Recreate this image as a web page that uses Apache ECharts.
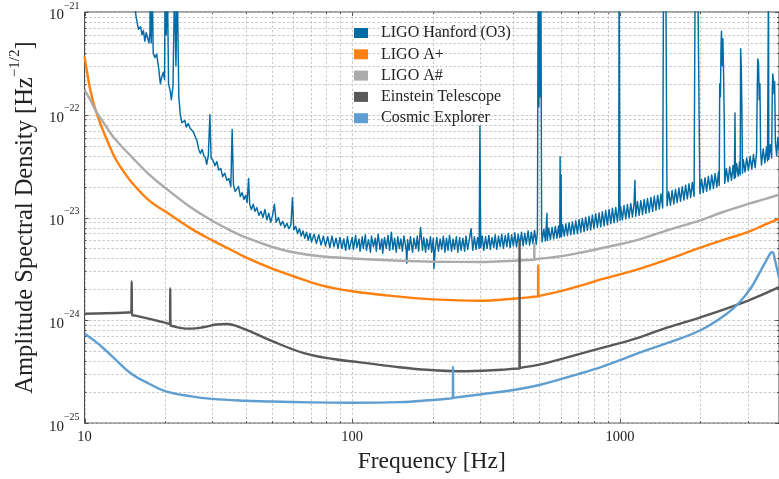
<!DOCTYPE html>
<html><head><meta charset="utf-8">
<script src="https://cdn.jsdelivr.net/npm/echarts@6/dist/echarts.min.js"></script>
<style>html,body{margin:0;padding:0;background:#fff}#c{width:779px;height:479px}</style>
</head><body><div id="c"></div><script>
const seriesNames = ['LIGO Hanford (O3)', 'LIGO A+', 'LIGO A#', 'Einstein Telescope', 'Cosmic Explorer'];
const seriesColors = ['#006BA4', '#FF800E', '#ABABAB', '#595959', '#5F9ED1'];
const xTickLabels = ['10', '100', '1000'];
const yTickExponents = ['−25', '−24', '−23', '−22', '−21'];

const hanford = [
[15.3,1.3e-21],[15.6,8.8e-22],[15.9,6.8e-22],[16.2,7.2e-22],[16.4,6.0e-22],[16.6,6.6e-22],[16.8,5.2e-22],[17.0,6.3e-22],[17.2,5.6e-22],[17.4,5.0e-22],[17.55,6.2e-22],[17.6,2e-21],[17.75,5.0e-22],[17.9,2e-21],[18.05,4.0e-22],[18.3,3.6e-22],[18.6,3.9e-22],[18.9,2.9e-22],[19.2,2.0e-22],[19.4,2.3e-22],[19.7,2.6e-22],[19.9,2.2e-22],[20.0,2e-21],[20.2,6e-22],[20.4,2e-21],[20.6,2.0e-22],[20.9,1.7e-22],[21.1,1.4e-22],[21.4,1.9e-22],[21.7,2e-21],[21.95,3e-22],[22.2,2e-21],[22.5,1.5e-22],[22.8,1.0e-22],[23.1,8.4e-23],
[23.4,8.1e-23],[23.7,8.8e-23],[24.0,7.6e-23],[24.4,8.2e-23],[24.8,7.4e-23],[25.2,7.6e-23],[25.5,6.8e-23],[26.0,6.0e-23],[26.3,5.6e-23],[26.7,4.6e-23],[27.1,4.2e-23],[27.5,4.6e-23],[27.9,4.0e-23],[28.3,3.8e-23],[28.6,3.3e-23],[29.0,4.0e-23],[29.4,1.0e-22],[29.7,3.8e-23],[30.2,3.6e-23],[30.7,3.2e-23],[31.2,3.5e-23],[31.7,2.9e-23],[32.3,3.0e-23],[32.8,2.5e-23],[33.4,2.7e-23],[34.0,2.3e-23],[34.6,2.4e-23],[35.2,2.0e-23],[35.6,7.2e-23],[36.0,2.1e-23],[36.5,1.8e-23],[37.0,1.75e-23],[37.6,2.0e-23],[38.2,1.6e-23],[38.8,1.75e-23],[39.4,1.5e-23],[40.0,1.65e-23],[40.5,1.4e-23],[41.0,2.4e-23],[41.4,1.35e-23],[42.0,1.2e-23],[42.7,1.35e-23],[43.3,1.15e-23],[44.0,1.25e-23],[44.8,1.05e-23],[45.6,1.15e-23],[46.4,1.0e-23],[47.2,1.2e-23],[48.0,9.5e-24],[48.8,1.1e-23],[49.6,9.0e-24],[50.4,1.05e-23],[51.2,1.35e-23],[52.0,9.0e-24],[53.0,1.0e-23],[54.0,8.4e-24],[55.0,9.2e-24],[56.0,8.0e-24],[57.0,8.8e-24],[58.0,7.8e-24],[59.0,8.4e-24],[59.8,1.56e-23],[60.5,7.6e-24],[61.5,8.2e-24],[62.5,7.0e-24],[63.5,7.8e-24],[64.5,6.6e-24],[65.5,7.4e-24],[66.5,6.3e-24],[67.5,7.2e-24],[68.5,6.0e-24],[69.5,7.0e-24],[70.5,5.8e-24],[72,6.9e-24],[73.5,5.6e-24],[75,6.8e-24],[76.5,5.4e-24],[78,6.6e-24],[79.5,5.3e-24],[81,6.5e-24],[82.5,5.1e-24],[84,6.6e-24],[85.5,5.2e-24],[87,6.3e-24],[88.5,5.0e-24],[90,6.4e-24],[91.5,5.0e-24],[93,6.2e-24],[94.5,4.8e-24],[96,6.5e-24],[97.5,4.9e-24],
[100,6.4e-24],[101,4.9e-24],[103,6.7e-24],[104,5.1e-24],[106,6.2e-24],[107,4.7e-24],[109,6.5e-24],[110,5.0e-24],[112,6.8e-24],[113,4.8e-24],[115,6.1e-24],[117,4.6e-24],[118,6.6e-24],[120,5.2e-24],[122,6.3e-24],[123,4.7e-24],[125,6.9e-24],[127,4.9e-24],[129,6.2e-24],[130,4.5e-24],[132,6.4e-24],[134,5.0e-24],[136,6.7e-24],[138,4.8e-24],[140,7.2e-24],[142,4.9e-24],[144,6.3e-24],[146,4.6e-24],[148,6.5e-24],[150,5.0e-24],[152,6.2e-24],[154,4.7e-24],[156,6.6e-24],[159,4.9e-24],[160,3.6e-24],[161,6.1e-24],[163,4.8e-24],[165,6.5e-24],[168,4.6e-24],[170,6.3e-24],[173,5.0e-24],[175,6.6e-24],[177,4.7e-24],[180,8.0e-24],[183,4.8e-24],[185,6.4e-24],[188,4.6e-24],[190,6.2e-24],[193,4.9e-24],[196,6.5e-24],[198,4.6e-24],[201,6.3e-24],[202,3.2e-24],[204,4.8e-24],[207,6.4e-24],[210,4.7e-24],[213,6.2e-24],[216,4.9e-24],[219,6.6e-24],[222,4.6e-24],[225,6.3e-24],[228,4.8e-24],[231,6.7e-24],[235,4.7e-24],[238,6.2e-24],[241,4.9e-24],[245,6.5e-24],[248,4.6e-24],[252,6.4e-24],[255,4.8e-24],[259,6.3e-24],[263,4.7e-24],[266,6.6e-24],[270,4.9e-24],[274,6.2e-24],[278,7.8e-24],[282,4.8e-24],[286,6.5e-24],[290,4.9e-24],[294,6.4e-24],[298,5.0e-24],[300,7.8e-23],[302,5.1e-24],[306,6.6e-24],[310,4.8e-24],[315,6.5e-24],[319,5.0e-24],[324,6.7e-24],[328,4.9e-24],[333,6.4e-24],[338,5.1e-24],[342,6.8e-24],[347,4.9e-24],[352,6.6e-24],[357,5.2e-24],[362,6.9e-24],[367,5.0e-24],[373,6.7e-24],[378,5.2e-24],[383,7.0e-24],[389,5.1e-24],[394,6.8e-24],[400,5.3e-24],[405,7.1e-24],[411,5.2e-24],[417,6.9e-24],[423,5.4e-24],[429,7.2e-24],[435,5.3e-24],[441,7.0e-24],[447,5.5e-24],[454,7.4e-24],[460,5.4e-24],[467,7.2e-24],[473,5.6e-24],[480,7.5e-24],[487,5.5e-24],[492,7.3e-24],
[495,2e-21],[498,1.2e-22],[501,2e-21],[504,1.5e-22],[507,2e-21],[510,7.5e-24],[512,5.8e-24],[520,7.7e-24],[527,5.9e-24],[534,1.1e-23],[536,6.0e-24],[542,7.9e-24],[550,6.1e-24],[558,8.0e-24],[566,6.2e-24],[574,8.2e-24],[582,6.3e-24],[590,8.3e-24],[596,6.4e-24],[598,3.9e-23],[600,6.6e-24],[603,2.6e-23],[605,6.5e-24],[611,8.5e-24],[620,6.6e-24],[628,8.7e-24],[637,6.7e-24],[646,8.9e-24],[655,6.8e-24],[665,9.1e-24],[674,6.9e-24],[684,9.3e-24],[694,7.0e-24],[704,9.6e-24],[714,7.2e-24],[724,9.8e-24],[735,7.3e-24],[745,1.01e-23],[756,7.5e-24],[767,1.03e-23],[778,7.6e-24],[789,1.06e-23],[800,7.8e-24],[812,1.09e-23],[824,8.0e-24],[836,1.11e-23],[848,8.1e-24],[860,1.14e-23],[873,8.3e-24],[885,1.17e-23],[898,8.5e-24],[911,1.2e-23],[924,8.7e-24],[938,1.23e-23],[951,8.9e-24],[965,1.25e-23],[979,9.1e-24],[990,1.24e-23],[993,2e-21],[997,2e-21],[1001,9.4e-24],[1007,1.28e-23],[1022,9.5e-24],[1036,1.31e-23],[1052,9.7e-24],[1067,1.34e-23],[1082,9.9e-24],[1098,1.37e-23],[1114,1.01e-23],[1130,1.4e-23],[1138,2.3e-23],[1146,1.03e-23],[1163,1.43e-23],[1180,1.05e-23],[1197,1.46e-23],[1215,1.07e-23],[1232,1.5e-23],[1250,1.1e-23],[1268,1.53e-23],[1287,1.12e-23],[1306,1.57e-23],[1325,1.15e-23],[1344,1.61e-23],[1364,1.18e-23],[1384,1.65e-23],[1404,1.21e-23],[1424,1.7e-23],[1445,1.24e-23],
[1455,2e-21],[1465,2e-21],[1475,2e-21],[1485,2e-21],[1495,2e-21],[1500,1.3e-23],[1522,1.78e-23],[1545,1.32e-23],[1567,1.83e-23],[1590,1.36e-23],[1613,1.88e-23],[1637,1.4e-23],[1661,1.94e-23],[1685,1.44e-23],[1710,2.0e-23],[1735,1.48e-23],[1760,2.06e-23],[1786,1.52e-23],[1812,2.13e-23],[1838,1.57e-23],[1865,2.2e-23],[1893,1.61e-23],[1910,2e-21],[1925,2e-21],[1940,2e-21],[1955,2e-21],[1970,2e-21],[1985,2e-21],[1990,1.7e-23],[2019,2.36e-23],[2049,1.75e-23],[2079,2.44e-23],[2109,1.8e-23],[2140,2.52e-23],[2172,1.86e-23],[2203,2.6e-23],[2236,1.92e-23],[2268,2.69e-23],[2302,1.98e-23],[2335,2.78e-23],[2350,2.05e-23],[2360,2.0e-22],[2375,1.5e-22],[2385,4.0e-22],[2395,6.5e-22],[2405,6.3e-22],[2415,3.0e-22],[2425,5.5e-22],[2440,2.5e-22],[2455,8.0e-23],[2463,2.15e-23],[2500,3.0e-23],[2536,2.23e-23],[2573,3.1e-23],[2611,2.3e-23],[2649,3.22e-23],[2677,2.4e-23],[2692,1.04e-22],[2700,2.45e-23],[2728,3.35e-23],[2768,2.53e-23],[2800,3.5e-23],[2815,2.6e-23],[2825,4.4e-22],[2840,3.0e-22],[2855,1.2e-22],[2870,2.7e-23],[2892,3.65e-23],[2934,2.78e-23],[2977,3.8e-23],[3021,2.87e-23],[3065,3.95e-23],[3110,2.96e-23],[3155,4.1e-23],[3201,3.06e-23],[3240,4.25e-23],[3260,1.8e-22],[3275,3.5e-22],[3295,3.2e-22],[3315,1.4e-22],[3335,2.0e-22],[3355,4.5e-23],[3380,3.25e-23],[3430,4.65e-23],[3480,3.4e-23],[3531,4.85e-23],[3560,3.55e-23],[3590,2e-21],[3600,3.7e-23],[3645,5.1e-23],[3690,3.8e-23],[3710,1.8e-22],[3725,2.5e-22],[3745,2.2e-22],[3765,1.6e-22],[3785,2.1e-22],[3810,5.5e-23],[3850,4.0e-23],[3890,6.0e-23],[3930,4.5e-23]
];

const aplus = [[10,3.7e-22],[10.2,2.7e-22],[10.5,1.75e-22],[10.9,1.2e-22],[11.5,8.0e-23],[12.2,5.5e-23],[13,3.8e-23],[14,2.8e-23],[15,2.2e-23],[17.5,1.45e-23],[20,1.15e-23],[25,7.8e-24],[30,6.0e-24],[35,4.9e-24],[40,4.1e-24],[50,3.2e-24],[60,2.7e-24],[76,2.2e-24],[100,1.92e-24],[150,1.7e-24],[200,1.6e-24],[300,1.55e-24],[400,1.62e-24],[490,1.705e-24],[494.5,1.71e-24],[495,3.45e-24],[495.5,1.72e-24],[500,1.73e-24],[600,1.92e-24],[725,2.2e-24],[850,2.5e-24],[1000,2.8e-24],[1200,3.2e-24],[1500,3.9e-24],[2000,5.1e-24],[2500,6.2e-24],[3000,7.2e-24],[3500,8.6e-24],[3930,9.7e-24]];

const asharp = [[10,1.75e-22],[10.5,1.4e-22],[11,1.1e-22],[12,7.8e-23],[13,5.8e-23],[15,3.9e-23],[17.5,2.6e-23],[20,1.95e-23],[25,1.25e-23],[30,9.3e-24],[35,7.5e-24],[40,6.4e-24],[50,5.2e-24],[60,4.6e-24],[76,4.2e-24],[100,4.0e-24],[150,3.8e-24],[200,3.72e-24],[300,3.7e-24],[400,3.8e-24],[474,3.89e-24],[478.5,3.9e-24],[479,5.6e-24],[479.5,3.91e-24],[484,3.93e-24],[600,4.2e-24],[725,4.6e-24],[1000,5.5e-24],[1200,6.2e-24],[1500,7.5e-24],[2000,9.4e-24],[2400,1.12e-23],[3000,1.35e-23],[3500,1.52e-23],[3930,1.67e-23]];

const et = [[10,1.16e-24],[12,1.17e-24],[14.5,1.19e-24],[14.95,1.2e-24],[15.0,2.4e-24],[15.05,1.13e-24],[15.5,1.11e-24],[17,1.05e-24],[19,9.8e-25],[20.6,9.3e-25],[20.85,9.2e-25],[20.9,2.05e-24],[20.95,8.9e-25],[21.3,8.8e-25],[23,8.4e-25],[25,8.3e-25],[28,8.6e-25],[31,9.1e-25],[34,9.2e-25],[37,8.8e-25],[43,7.5e-25],[50,6.3e-25],[66,4.8e-25],[85,4.2e-25],[107,3.9e-25],[150,3.5e-25],[190,3.3e-25],[250,3.2e-25],[360,3.3e-25],[418,3.4e-25],[421.5,3.4e-25],[422,6.0e-24],[422.5,3.42e-25],[426,3.45e-25],[500,3.7e-25],[725,4.8e-25],[1000,6.0e-25],[1200,6.9e-25],[1500,8.5e-25],[2000,1.07e-24],[3000,1.55e-24],[3930,2.1e-24]];

const ce = [[10,7.4e-25],[11,6.2e-25],[12,5.1e-25],[13,4.2e-25],[15,3.0e-25],[17.5,2.4e-25],[20,2.05e-25],[25,1.82e-25],[30,1.72e-25],[40,1.65e-25],[50,1.62e-25],[70,1.59e-25],[100,1.58e-25],[150,1.6e-25],[200,1.68e-25],[234,1.74e-25],[237.5,1.75e-25],[238,3.55e-25],[238.5,1.76e-25],[242,1.77e-25],[300,1.9e-25],[400,2.1e-25],[500,2.35e-25],[700,3.0e-25],[850,3.5e-25],[1000,4.1e-25],[1200,4.9e-25],[1500,6.0e-25],[2000,8.0e-25],[2500,1.15e-24],[2800,1.5e-24],[3100,2.1e-24],[3300,2.8e-24],[3500,3.7e-24],[3650,4.5e-24],[3720,4.6e-24],[3800,3.8e-24],[3930,2.6e-24]];

const FONT = '"Liberation Serif", "DejaVu Serif", serif';
const TXT = '#222';
// The y axis works in units of 1e-25 Hz^-1/2 (ECharts rounds tiny numbers to 0)
const Y_UNIT = 1e-25;

const xGridVals = [];
for (let d = 10; d <= 1000; d *= 10) for (let m = 1; m <= 9; m++) { const v = m * d; if (v <= 3930) xGridVals.push(v); }
const yGridVals = []; // in units of Y_UNIT
for (let d = 1; d <= 10000; d *= 10) for (let m = 1; m <= 9; m++) { const v = m * d; if (v <= 10000) yGridVals.push(v); }

function isDecade(v) { const e = Math.log10(v); return Math.abs(e - Math.round(e)) < 1e-6; }

function tickSeries(axis, vals) {
  return {
    type: 'custom', silent: true, z: 1, clip: false,
    data: vals.map(v => axis === 'x' ? [v, 100] : [100, v]),
    encode: { x: 0, y: 1 },
    renderItem: function (params, api) {
      const cs = params.coordSys;
      const p = api.coord([api.value(0), api.value(1)]);
      const v = axis === 'x' ? api.value(0) : api.value(1);
      const len = isDecade(v) ? 4 : 2;
      const gs = { stroke: '#bdbdbd', lineWidth: 0.8, lineDash: [2.5, 2] };
      const ts = { stroke: '#333', lineWidth: 0.8 };
      const ch = [];
      if (axis === 'x') {
        const x = Math.round(p[0]) + 0.5, b = cs.y + cs.height, t = cs.y;
        ch.push({ type: 'line', shape: { x1: x, y1: t, x2: x, y2: b }, style: gs });
        ch.push({ type: 'line', shape: { x1: x, y1: b, x2: x, y2: b - len }, style: ts });
        ch.push({ type: 'line', shape: { x1: x, y1: t, x2: x, y2: t + len }, style: ts });
      } else {
        const y = Math.round(p[1]) + 0.5, l = cs.x, r = cs.x + cs.width;
        ch.push({ type: 'line', shape: { x1: l, y1: y, x2: r, y2: y }, style: gs });
        ch.push({ type: 'line', shape: { x1: l, y1: y, x2: l + len, y2: y }, style: ts });
        ch.push({ type: 'line', shape: { x1: r, y1: y, x2: r - len, y2: y }, style: ts });
      }
      return { type: 'group', children: ch };
    }
  };
}

const dataSets = [hanford, aplus, asharp, et, ce];
const widths = [1.45, 2.4, 2.4, 2.4, 2.4];
const lineSeries = dataSets.map((d, i) => ({
  name: seriesNames[i], type: 'line', data: d.map(p => [p[0], p[1] / Y_UNIT]), showSymbol: false, symbol: 'none',
  smooth: i === 0 ? false : 0.4,
  color: seriesColors[i], itemStyle: { color: seriesColors[i] },
  lineStyle: { color: seriesColors[i], width: widths[i], join: 'round' }, z: 3 + i, clip: true
}));

const chart = echarts.init(document.getElementById('c'), null, { renderer: 'canvas' });
chart.setOption({
  animation: false,
  backgroundColor: '#fff',
  grid: { left: 80, right: 0, top: 12, bottom: 48, show: true, borderColor: '#444', borderWidth: 1, backgroundColor: 'transparent' },
  legend: {
    data: seriesNames, orient: 'vertical', left: 354, top: 25, padding: 0, icon: 'rect', itemWidth: 14, itemHeight: 10, itemGap: 5.3,
    selectedMode: false,
    textStyle: { fontFamily: FONT, fontSize: 16, color: TXT, lineHeight: 14, padding: [0, 0, 0, 8] }
  },
  xAxis: {
    type: 'log', logBase: 10, min: 10, max: 3930,
    axisLine: { show: false }, axisTick: { show: false }, splitLine: { show: false },
    axisLabel: {
      showMaxLabel: false, margin: 7, fontFamily: FONT, fontSize: 14.5, color: TXT,
      formatter: v => isDecade(v) ? (xTickLabels[Math.round(Math.log10(v)) - 1] || '') : ''
    },
    name: 'Frequency [Hz]', nameLocation: 'middle', nameGap: 21,
    nameTextStyle: { fontFamily: FONT, fontSize: 23.5, color: TXT }
  },
  yAxis: {
    type: 'log', logBase: 10, min: 1, max: 10000,
    axisLine: { show: false }, axisTick: { show: false }, splitLine: { show: false },
    axisLabel: {
      margin: 5,
      formatter: v => isDecade(v) ? '{b|10}{s|' + (yTickExponents[Math.round(Math.log10(v))] || '') + '}' : '',
      rich: {
        b: { fontFamily: FONT, fontSize: 15, color: TXT, lineHeight: 22, verticalAlign: 'bottom' },
        s: { fontFamily: FONT, fontSize: 10, color: TXT, lineHeight: 12, verticalAlign: 'top' }
      }
    },
    name: '{a|Amplitude Spectral Density [Hz}{s|−1/2}{a|]}', nameLocation: 'middle', nameRotate: 90, nameGap: 42,
    nameTextStyle: {
      rich: {
        a: { fontFamily: FONT, fontSize: 24.5, color: TXT, lineHeight: 30, verticalAlign: 'bottom' },
        s: { fontFamily: FONT, fontSize: 15, color: TXT, lineHeight: 18, verticalAlign: 'top' }
      }
    }
  },
  series: [tickSeries('x', xGridVals), tickSeries('y', yGridVals)].concat(lineSeries)
});
</script></body></html>
